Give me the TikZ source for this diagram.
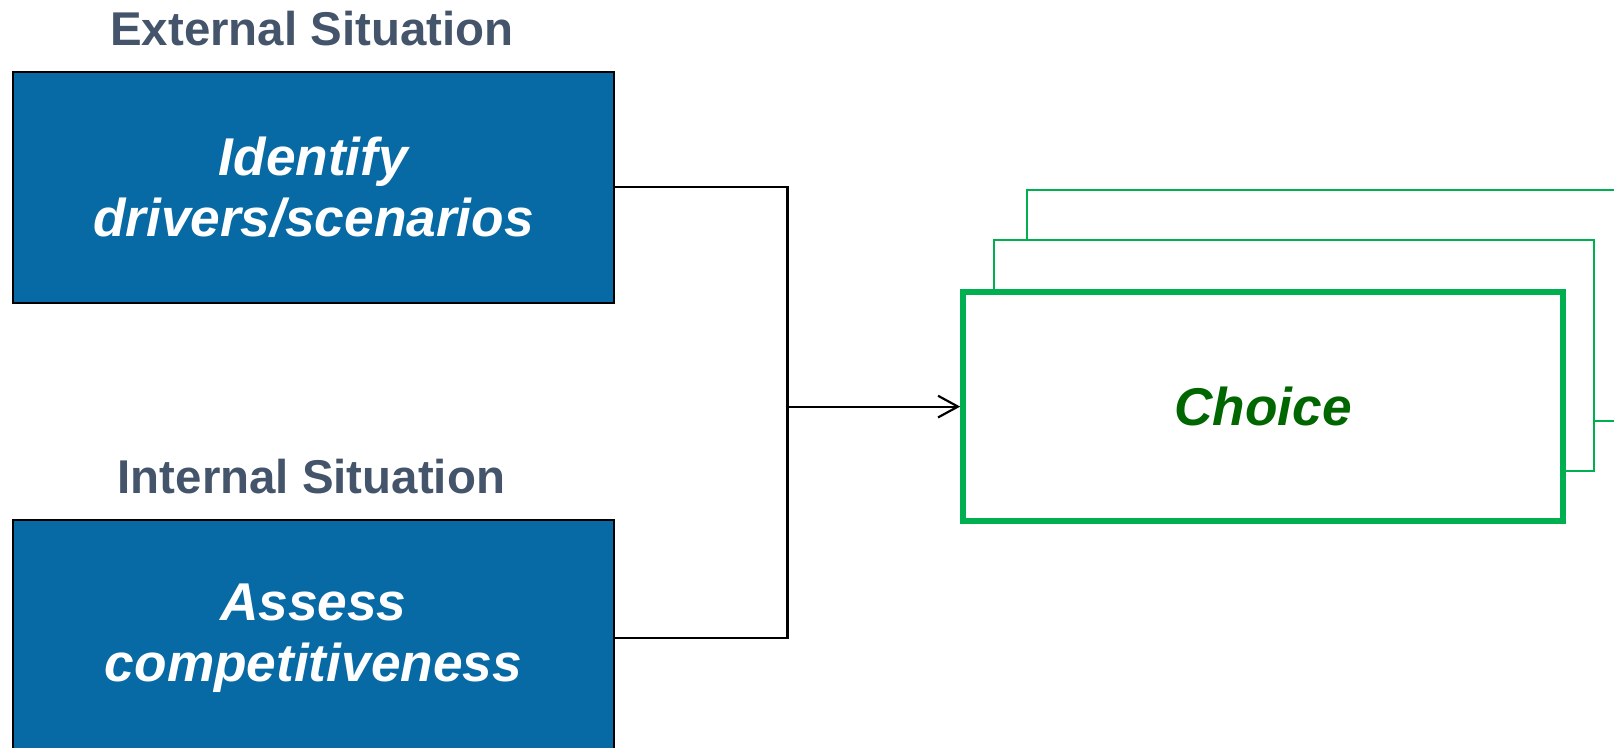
\documentclass[tikz,border=0pt]{standalone}
\usepackage{fontspec}
\setmainfont{Liberation Sans}
\usetikzlibrary{arrows.meta}
\definecolor{titlegray}{RGB}{68,84,106}
\definecolor{boxblue}{RGB}{8,106,164}
\definecolor{stackgreen}{RGB}{0,176,80}
\definecolor{choicetext}{RGB}{0,102,0}
\begin{document}
\begin{tikzpicture}[x=0.01cm, y=-0.01cm,
  title/.style={font=\fontsize{13.1}{15}\selectfont\bfseries, text=titlegray},
  task/.style={fill=boxblue, draw=black, line width=0.5pt, minimum width=5.83cm, align=center, inner sep=0pt,
    text=white, font=\fontsize{14.7}{17}\selectfont\bfseries\itshape},
  stack/.style={draw=stackgreen, line width=0.6pt, fill=white, minimum height=2.24cm, inner sep=0pt},
  link/.style={line width=0.6pt}]
\useasboundingbox (0,0) rectangle (1568,726);

% left side: the two situations
\node[title] (ext) at (303,28) {External Situation};
\node[task, minimum height=2.24cm] (ident) at (304.5,182) {Identify\\drivers/scenarios};
\node[title] (int) at (302.5,463) {Internal Situation};
\node[task, minimum height=2.30cm] (assess) at (304.5,620) {Assess\\competitiveness};

% right side: stacked choices
\node[stack, minimum width=6.00cm] (back) at (1298,297) {};
\node[stack, minimum width=5.82cm] (mid) at (1257,345.5) {};
\node[stack, minimum width=5.82cm, minimum height=2.22cm, line width=1.7pt,
  text=choicetext, font=\fontsize{14.7}{16}\selectfont\bfseries\itshape] (choice) at (1227,395) {Choice};

% connectors
\coordinate (join) at (765,395);
\draw[link] (ident.east) -| (join);
\draw[link] (assess.east) -| (join);
\draw[link, -{Straight Barb[length=5.5pt, width=6pt]}] (join) -- (choice.west);
\end{tikzpicture}
\end{document}
